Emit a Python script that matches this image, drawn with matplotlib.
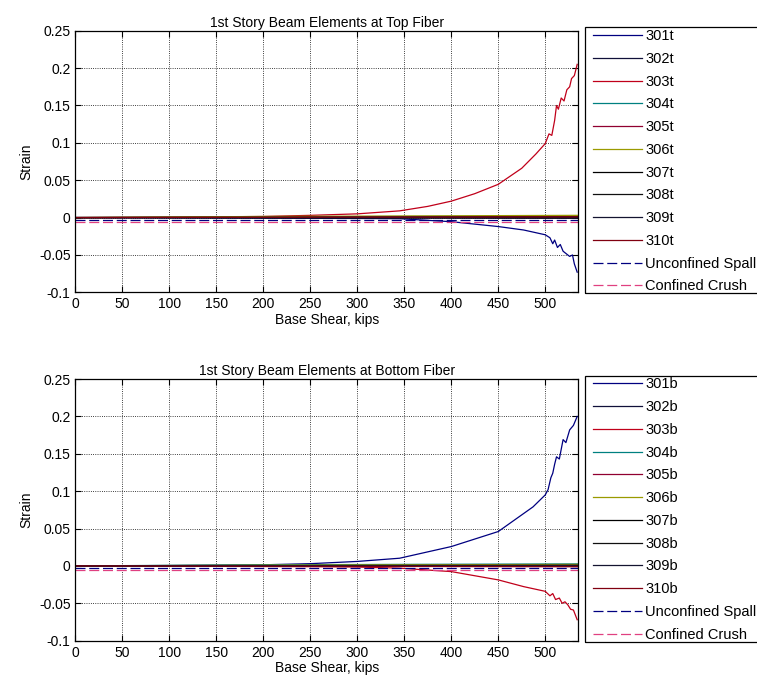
import matplotlib
matplotlib.use("Agg")
import matplotlib.pyplot as plt
from matplotlib.patches import Rectangle

plt.rcParams['font.family'] = ['Liberation Sans', 'DejaVu Sans']
plt.rcParams['font.size'] = 10

# ---- data (base shear in kips, strain) ----
ends = [0, 535]

# top fiber
v_301t = [0, 100, 200, 250, 300, 345, 400, 450, 477, 500, 505, 508, 510, 513, 516, 519, 522, 526, 529, 531, 534]
e_301t = [0, -0.0003, -0.0008, -0.001, -0.0012, -0.0015, -0.0055, -0.012, -0.0166, -0.023, -0.027,
          -0.035, -0.030, -0.040, -0.036, -0.045, -0.048, -0.052, -0.050, -0.062, -0.073]
v_303t = [0, 100, 200, 250, 300, 345, 375, 400, 425, 450, 475, 490, 500, 504, 507, 510, 512, 514,
          517, 520, 523, 526, 528, 531, 534]
e_303t = [0, 0.0005, 0.0015, 0.003, 0.005, 0.009, 0.015, 0.022, 0.032, 0.0445, 0.066, 0.085, 0.099,
          0.112, 0.110, 0.130, 0.150, 0.145, 0.160, 0.156, 0.171, 0.175, 0.186, 0.190, 0.205]
v_flat = [0, 200, 535]
e_302t = [0, -0.0005, -0.001]
e_304t = [0, 0.001, 0.002]
e_305t = [0, 0.0008, 0.0012]
e_306t = [0, 0.0015, 0.003]
e_307t = [0, 0.0002, 0.0005]
e_308t = [0, -0.0002, -0.0004]
e_309t = [0, 0.0003, 0.0008]
e_310t = [0, 0.0004, 0.001]

# bottom fiber
v_301b = [0, 100, 200, 250, 300, 345, 400, 450, 487, 500, 503, 506, 508, 510, 512, 515, 519, 522,
          526, 530, 534]
e_301b = [0, 0.0005, 0.0015, 0.003, 0.006, 0.0103, 0.0259, 0.046, 0.079, 0.095, 0.102, 0.118, 0.124,
          0.136, 0.146, 0.143, 0.169, 0.165, 0.182, 0.188, 0.200]
v_303b = [0, 100, 200, 250, 300, 345, 400, 450, 477, 500, 505, 508, 511, 515, 518, 521, 524, 527,
          530, 534]
e_303b = [0, -0.0003, -0.0008, -0.001, -0.0015, -0.003, -0.0076, -0.0187, -0.0277, -0.034, -0.040,
          -0.037, -0.045, -0.043, -0.050, -0.048, -0.052, -0.058, -0.059, -0.072]
e_302b = [0, 0.0005, 0.001]
e_304b = [0, 0.0015, 0.0027]
e_305b = [0, -0.0005, -0.001]
e_306b = [0, 0.001, 0.002]
e_307b = [0, 0.0003, 0.0006]
e_308b = [0, -0.0002, -0.0004]
e_309b = [0, 0.0004, 0.0008]
e_310b = [0, -0.0004, -0.0008]

spall = [-0.003, -0.003]
crush = [-0.006, -0.006]

colors = {
    '301': '#000080', '302': '#10103a', '303': '#c0001a', '304': '#008080', '305': '#900030',
    '306': '#9a9a00', '307': '#000000', '308': '#101010', '309': '#141430', '310': '#800010',
}
x_ticks = list(range(0, 501, 50))
y_ticks = [-0.1, -0.05, 0, 0.05, 0.1, 0.15, 0.2, 0.25]
y_labels = ['-0.1', '-0.05', '0', '0.05', '0.1', '0.15', '0.2', '0.25']


def draw(ax, series, suffix, title):
    for num, xs, ys in series:
        ax.plot(xs, ys, color=colors[num], lw=0.9, label=num + suffix)
    ax.plot(ends, spall, color='#000080', lw=0.9, dashes=(8, 3), label='Unconfined Spall')
    ax.plot(ends, crush, color='#e04080', lw=0.9, dashes=(8, 3), label='Confined Crush')
    ax.set_xlim(0, 535)
    ax.set_ylim(-0.1, 0.25)
    ax.set_xticks(x_ticks)
    ax.set_yticks(y_ticks)
    ax.set_yticklabels(y_labels)
    ax.grid(True, linestyle=':', color='black', lw=0.6)
    ax.tick_params(direction='in', top=True, right=True, length=4, width=0.8)
    for s in ax.spines.values():
        s.set_linewidth(0.9)
    ax.set_title(title, fontsize=10, pad=3)
    ax.set_xlabel('Base Shear, kips', labelpad=1)
    ax.set_ylabel('Strain')
    ax.legend(loc='upper left', bbox_to_anchor=(1.030, 1.006), borderaxespad=0,
              frameon=False, fontsize=10.5, handlelength=3.36, handletextpad=0.2,
              labelspacing=0.6, borderpad=0)
    # legend box, running past the right edge as in the original
    bb = ax.get_position()
    x0 = bb.x1 + 7 / 757
    fig.patches.append(Rectangle((x0, bb.y0 - 1 / 683), 1.0 - x0 + 0.01, bb.height + 4.5 / 683,
                                 transform=fig.transFigure, fill=False, ec='black', lw=0.9))


fig = plt.figure(figsize=(7.57, 6.83), dpi=100)
ax1 = fig.add_axes([0.0997, 0.572, 0.664, 0.383])
ax2 = fig.add_axes([0.0997, 0.062, 0.664, 0.383])

top = [('301', v_301t, e_301t), ('302', v_flat, e_302t), ('303', v_303t, e_303t),
       ('304', v_flat, e_304t), ('305', v_flat, e_305t), ('306', v_flat, e_306t),
       ('307', v_flat, e_307t), ('308', v_flat, e_308t), ('309', v_flat, e_309t),
       ('310', v_flat, e_310t)]
bottom = [('301', v_301b, e_301b), ('302', v_flat, e_302b), ('303', v_303b, e_303b),
          ('304', v_flat, e_304b), ('305', v_flat, e_305b), ('306', v_flat, e_306b),
          ('307', v_flat, e_307b), ('308', v_flat, e_308b), ('309', v_flat, e_309b),
          ('310', v_flat, e_310b)]

draw(ax1, top, 't', '1st Story Beam Elements at Top Fiber')
draw(ax2, bottom, 'b', '1st Story Beam Elements at Bottom Fiber')

fig.savefig('out.png', dpi=100)
